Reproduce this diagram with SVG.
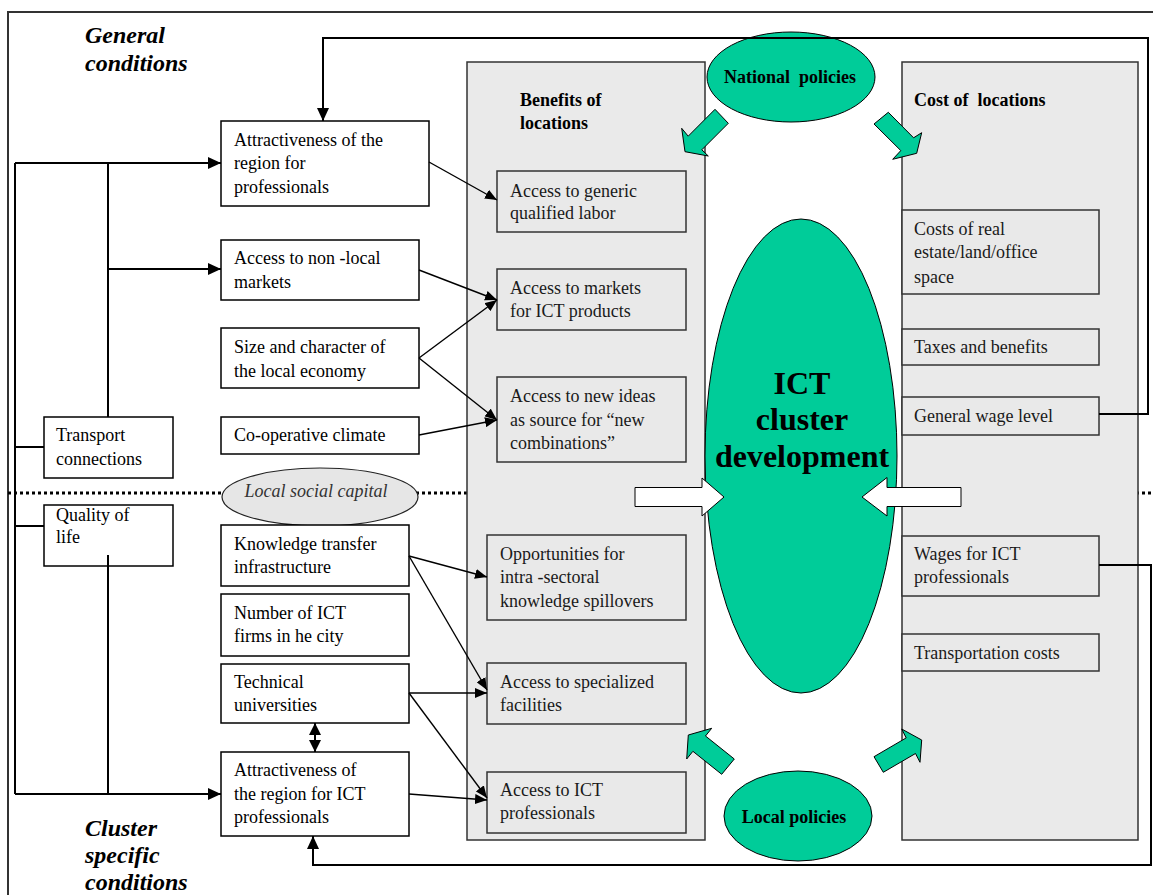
<svg xmlns="http://www.w3.org/2000/svg" width="1153" height="895" viewBox="0 0 1153 895">
<style>
.t{font-family:"Liberation Serif","Times New Roman",serif;font-size:18px;fill:#000;white-space:pre}
.g{fill:#1a1a1a}
.b{font-weight:bold}
.big{font-size:32px}
.hd{font-weight:bold;font-style:italic;font-size:24px}
.it{font-style:italic;fill:#333}
.box{fill:#fff;stroke:#000;stroke-width:1.5}
.gbox{fill:#e9e9e9;stroke:#333;stroke-width:1.5}
.cont{fill:#eaeaea;stroke:#333;stroke-width:1.5}
.green{fill:#00cc99;stroke:#000;stroke-width:1}
.white{fill:#fff;stroke:#000;stroke-width:1}
.ln{stroke:#000;stroke-width:2;fill:none}
.dl{stroke:#000;stroke-width:1.4;fill:none}
</style>
<defs>
<marker id="ah" markerUnits="userSpaceOnUse" markerWidth="13" markerHeight="12" refX="13" refY="6" orient="auto"><path d="M0,0 L13,6 L0,12 z" fill="#000"/></marker>
<marker id="as" markerUnits="userSpaceOnUse" markerWidth="12" markerHeight="10" refX="12" refY="5" orient="auto"><path d="M0,0 L12,5 L0,10 z" fill="#000"/></marker>
<marker id="ad" markerUnits="userSpaceOnUse" markerWidth="12" markerHeight="12" refX="12" refY="6" orient="auto-start-reverse"><path d="M0,0 L12,6 L0,12 z" fill="#000"/></marker>
</defs>

<rect x="8" y="12" width="1170" height="900" fill="none" stroke="#333" stroke-width="2"/>
<line x1="8" y1="493" x2="1153" y2="493" stroke="#000" stroke-width="3" stroke-dasharray="3 3"/>

<text class="t hd" x="85" y="43">General</text>
<text class="t hd" x="85" y="71">conditions</text>
<text class="t hd" x="85" y="836">Cluster</text>
<text class="t hd" x="85" y="863">specific</text>
<text class="t hd" x="85" y="890">conditions</text>

<g id="benefits">
<rect class="cont" x="467" y="62" width="238" height="778"/>
<text class="t b" x="520" y="106">Benefits of</text>
<text class="t b" x="520" y="129">locations</text>
</g>
<g id="costs">
<rect class="cont" x="902" y="62" width="236" height="778"/>
<text class="t b" x="914" y="106">Cost of  locations</text>
</g>

<g id="ict">
<ellipse class="green" cx="801" cy="456" rx="96" ry="237"/>
<text class="t b big" x="802" y="394" text-anchor="middle">ICT</text>
<text class="t b big" x="802" y="430" text-anchor="middle">cluster</text>
<text class="t b big" x="802" y="467" text-anchor="middle">development</text>
</g>

<g id="national">
<ellipse class="green" cx="791" cy="77" rx="84" ry="45"/>
<text class="t b" x="790" y="83" text-anchor="middle">National  policies</text>
</g>
<g id="local-policies">
<ellipse class="green" cx="798" cy="816" rx="74" ry="45"/>
<text class="t b" x="794" y="823" text-anchor="middle">Local policies</text>
</g>

<g id="policy-arrows">
<polygon class="green" points="715,109.3 728.3,123.3 701.8,149.8 708.3,156 685,151.7 681.7,128.3 688.2,136.2"/>
<polygon class="green" points="888.3,112.3 913.6,137.8 921.7,132.7 916.7,153.3 892.7,159.3 900.8,150.6 874,124"/>
<polygon class="green" points="688.3,735 711.7,728.3 705.5,736 734.3,759 721.7,774.3 692.9,751.3 686.7,759"/>
<polygon class="green" points="921.7,740 901.7,729 906.2,737.9 874,756.7 883.3,772.3 915.5,753.5 920,762.3"/>
</g>
<g id="white-arrows">
<polygon class="white" points="635,487.5 702,487.5 702,478 724,497 702,516 702,506.5 635,506.5"/>
<polygon class="white" points="961,487.5 887,487.5 887,477.5 862,497 887,516 887,506.5 961,506.5"/>
</g>

<g id="n-attr-prof"><rect class="box" x="221" y="121" width="208" height="85"/>
<text class="t" x="234" y="146">Attractiveness of the</text><text class="t" x="234" y="169">region for</text><text class="t" x="234" y="193">professionals</text></g>
<g id="n-nonlocal"><rect class="box" x="221" y="240" width="198" height="60"/>
<text class="t" x="234" y="264">Access to non -local</text><text class="t" x="234" y="288">markets</text></g>
<g id="n-size"><rect class="box" x="221" y="328" width="198" height="60"/>
<text class="t" x="234" y="353">Size and character of</text><text class="t" x="234" y="377">the local economy</text></g>
<g id="n-coop"><rect class="box" x="221" y="417" width="198" height="37"/>
<text class="t" x="234" y="441">Co-operative climate</text></g>
<g id="n-transport"><rect class="box" x="44" y="417" width="129" height="61"/>
<text class="t" x="56" y="441">Transport</text><text class="t" x="56" y="465">connections</text></g>
<g id="n-quality"><rect class="box" x="44" y="505" width="129" height="61"/>
<text class="t" x="56" y="521">Quality of</text><text class="t" x="56" y="543">life</text></g>
<g id="n-social"><ellipse cx="320" cy="497" rx="98" ry="29" fill="#e6e6e6" stroke="#222" stroke-width="1.2"/>
<text class="t it" x="316" y="497" text-anchor="middle">Local social capital</text></g>
<g id="n-knowledge"><rect class="box" x="221" y="525" width="188" height="61"/>
<text class="t" x="234" y="550">Knowledge transfer</text><text class="t" x="234" y="573">infrastructure</text></g>
<g id="n-number"><rect class="box" x="221" y="594" width="188" height="62"/>
<text class="t" x="234" y="619">Number of ICT</text><text class="t" x="234" y="642">firms in he city</text></g>
<g id="n-technical"><rect class="box" x="221" y="664" width="188" height="59"/>
<text class="t" x="234" y="688">Technical</text><text class="t" x="234" y="711">universities</text></g>
<g id="n-attr-ict"><rect class="box" x="221" y="752" width="188" height="84"/>
<text class="t" x="234" y="776">Attractiveness of</text><text class="t" x="234" y="800">the region for ICT</text><text class="t" x="234" y="823">professionals</text></g>

<g id="b-generic"><rect class="gbox" x="497" y="171" width="189" height="61"/>
<text class="t g" x="510" y="197">Access to generic</text><text class="t g" x="510" y="219">qualified labor</text></g>
<g id="b-markets"><rect class="gbox" x="497" y="269" width="189" height="61"/>
<text class="t g" x="510" y="294">Access to markets</text><text class="t g" x="510" y="317">for ICT products</text></g>
<g id="b-ideas"><rect class="gbox" x="497" y="377" width="189" height="85"/>
<text class="t g" x="510" y="402">Access to new ideas</text><text class="t g" x="510" y="426">as source for “new</text><text class="t g" x="510" y="449">combinations”</text></g>
<g id="b-spill"><rect class="gbox" x="487" y="535" width="199" height="85"/>
<text class="t g" x="500" y="560">Opportunities for</text><text class="t g" x="500" y="583">intra -sectoral</text><text class="t g" x="500" y="607">knowledge spillovers</text></g>
<g id="b-special"><rect class="gbox" x="487" y="663" width="199" height="61"/>
<text class="t g" x="500" y="688">Access to specialized</text><text class="t g" x="500" y="711">facilities</text></g>
<g id="b-ictprof"><rect class="gbox" x="487" y="772" width="199" height="61"/>
<text class="t g" x="500" y="796">Access to ICT</text><text class="t g" x="500" y="819">professionals</text></g>

<g id="c-realestate"><rect class="gbox" x="902" y="210" width="197" height="84"/>
<text class="t g" x="914" y="235">Costs of real</text><text class="t g" x="914" y="258">estate/land/office</text><text class="t g" x="914" y="283">space</text></g>
<g id="c-taxes"><rect class="gbox" x="902" y="329" width="197" height="36"/>
<text class="t g" x="914" y="353">Taxes and benefits</text></g>
<g id="c-wage"><rect class="gbox" x="902" y="397" width="197" height="38"/>
<text class="t g" x="914" y="422">General wage level</text></g>
<g id="c-wagesict"><rect class="gbox" x="902" y="536" width="197" height="60"/>
<text class="t g" x="914" y="560">Wages for ICT</text><text class="t g" x="914" y="583">professionals</text></g>
<g id="c-transport"><rect class="gbox" x="902" y="634" width="197" height="37"/>
<text class="t g" x="914" y="659">Transportation costs</text></g>

<g id="connectors">
<polyline class="ln" points="1099,414 1148,414 1148,38 323,38 323,121" marker-end="url(#ah)"/>
<polyline class="ln" points="1099,565 1151,565 1151,865 313,865 313,836" marker-end="url(#ah)"/>
<line class="ln" x1="15" y1="163" x2="15" y2="794"/>
<line class="ln" x1="15" y1="163" x2="221" y2="163" marker-end="url(#ah)"/>
<line class="ln" x1="108" y1="163" x2="108" y2="417"/>
<line class="ln" x1="108" y1="269" x2="221" y2="269" marker-end="url(#ah)"/>
<line class="ln" x1="15" y1="447" x2="44" y2="447"/>
<line class="ln" x1="15" y1="526" x2="44" y2="526"/>
<line class="ln" x1="108" y1="555" x2="108" y2="794"/>
<line class="ln" x1="15" y1="794" x2="221" y2="794" marker-end="url(#ah)"/>
<line class="ln" x1="315" y1="723" x2="315" y2="752" marker-start="url(#ad)" marker-end="url(#ad)"/>
<line class="dl" x1="429" y1="162" x2="497" y2="200" marker-end="url(#as)"/>
<line class="dl" x1="419" y1="270" x2="497" y2="300" marker-end="url(#as)"/>
<line class="dl" x1="419" y1="358" x2="497" y2="300" marker-end="url(#as)"/>
<line class="dl" x1="419" y1="358" x2="497" y2="420" marker-end="url(#as)"/>
<line class="dl" x1="419" y1="435" x2="497" y2="420" marker-end="url(#as)"/>
<line class="dl" x1="409" y1="556" x2="487" y2="577" marker-end="url(#as)"/>
<line class="dl" x1="409" y1="556" x2="487" y2="690" marker-end="url(#as)"/>
<line class="dl" x1="409" y1="693" x2="487" y2="693" marker-end="url(#as)"/>
<line class="dl" x1="409" y1="693" x2="487" y2="798" marker-end="url(#as)"/>
<line class="dl" x1="409" y1="794" x2="487" y2="800" marker-end="url(#as)"/>
</g>
</svg>
